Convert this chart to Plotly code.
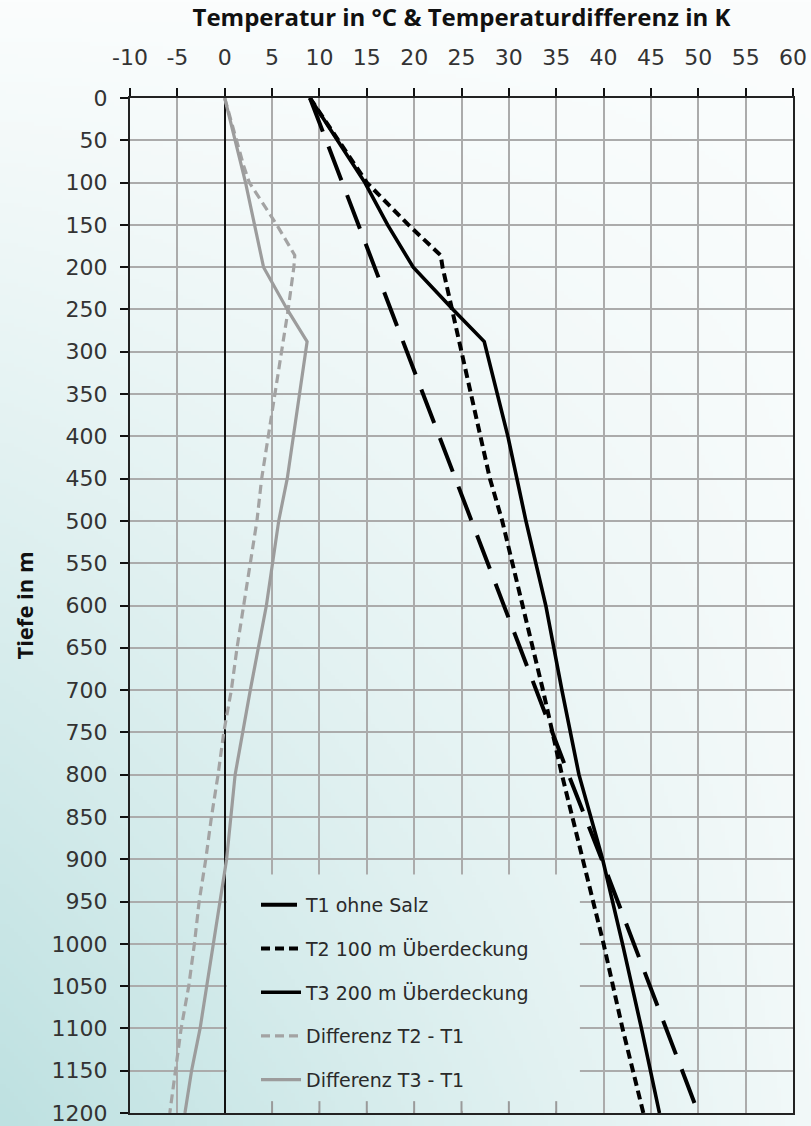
import base64
import struct
import zlib

import numpy as np
import plotly.graph_objects as go

# ---------------------------------------------------------------- data
# Temperaturen (°C) über der Tiefe (m)
depth_t1 = [0, 100, 200, 300, 400, 500, 600, 700, 800, 900, 1000, 1100, 1200]
temp_t1 = [9.0, 12.4, 15.8, 19.3, 22.7, 26.1, 29.5, 32.9, 36.3, 39.8, 43.2, 46.6, 50.0]

depth_t2 = [0, 100, 150, 186, 200, 250, 300, 350, 400, 450, 500, 600, 700, 800, 900, 1000, 1100, 1200]
temp_t2 = [9.0, 15.0, 19.4, 22.8, 23.0, 24.0, 25.0, 26.1, 27.1, 28.0, 29.3, 31.5, 33.6, 35.6, 37.8, 40.0, 42.0, 44.2]

depth_t3 = [0, 100, 150, 200, 250, 288, 400, 500, 600, 700, 800, 900, 1000, 1100, 1200]
temp_t3 = [9.0, 14.8, 17.2, 19.9, 24.1, 27.4, 29.9, 31.8, 33.9, 35.6, 37.4, 39.9, 42.0, 44.0, 45.9]

# Temperaturdifferenzen (K)
depth_d21 = [0, 80, 100, 150, 186, 200, 250, 300, 350, 400, 450, 500, 550, 600, 650, 700,
             750, 800, 850, 900, 950, 1000, 1050, 1100, 1150, 1200]
diff_d21 = [0.0, 2.0, 2.6, 5.5, 7.4, 7.3, 6.7, 6.0, 5.3, 4.6, 3.9, 3.4, 2.7, 2.0, 1.3, 0.7,
            -0.1, -0.7, -1.4, -2.0, -2.7, -3.2, -3.8, -4.6, -5.2, -5.8]

depth_d31 = [0, 100, 200, 250, 288, 350, 400, 450, 500, 600, 700, 800, 900, 950, 1000,
             1050, 1100, 1150, 1200]
diff_d31 = [0.0, 2.2, 4.1, 6.6, 8.7, 7.9, 7.25, 6.6, 5.7, 4.4, 2.7, 1.1, 0.2, -0.5, -1.2,
            -1.9, -2.6, -3.5, -4.2]

x_ticks = list(range(-10, 61, 5))
y_ticks = list(range(0, 1201, 50))

# ---------------------------------------------------------------- layout geometry
W, H = 811, 1126
ML, MR, MT, MB = 130, 18, 98, 13
PW, PH = W - ML - MR, H - MT - MB
X_RANGE = (-10, 60)
Y_RANGE = (1200, 0)

TICK_FONT = "'DejaVu Sans', sans-serif"
TITLE_FONT = "'Open Sans', sans-serif"
TXT = "#2a2a2a"


def px_of(v):
    return ML + (v - X_RANGE[0]) / (X_RANGE[1] - X_RANGE[0]) * PW


def py_of(d):
    return MT + d / Y_RANGE[0] * PH


# ---------------------------------------------------------------- background gradient
TEAL = np.array([190, 225, 225], float)
WHITE = np.array([251, 253, 253], float)


def gradient_rgb(x0, x1, y0, y1, nx, ny):
    xs = np.linspace(x0, x1, nx)[None, :]
    ys = np.linspace(y0, y1, ny)[:, None]
    t = np.clip((ys / H) * (1 - 0.85 * xs / W), 0, 1)
    rgb = WHITE + (TEAL - WHITE) * t[..., None]
    return np.clip(rgb, 0, 255).astype(np.uint8)


def png_uri(rgb):
    h, w, _ = rgb.shape
    raw = b"".join(b"\x00" + rgb[i].tobytes() for i in range(h))

    def chunk(tag, data):
        body = tag + data
        return struct.pack(">I", len(data)) + body + struct.pack(">I", zlib.crc32(body) & 0xFFFFFFFF)

    png = (b"\x89PNG\r\n\x1a\n"
           + chunk(b"IHDR", struct.pack(">IIBBBBB", w, h, 8, 2, 0, 0, 0))
           + chunk(b"IDAT", zlib.compress(raw, 9))
           + chunk(b"IEND", b""))
    return "data:image/png;base64," + base64.b64encode(png).decode()


def paper_x(px):
    return (px - ML) / PW


def paper_y(py):
    return 1 - (py - MT) / PH


bg_uri = png_uri(gradient_rgb(0, W, 0, H, W // 4, H // 4))

# patch behind the legend (hides the grid there, keeps the gradient)
lx0, lx1 = px_of(0.2), px_of(37.5)
ly0, ly1 = py_of(918), py_of(1197.5)
legend_uri = png_uri(gradient_rgb(lx0, lx1, ly0, ly1, 90, 60))

# ---------------------------------------------------------------- traces
fig = go.Figure()

fig.add_trace(go.Scatter(
    x=temp_t1, y=depth_t1, mode="lines", name="T1 ohne Salz", legendgroup="a",
    line=dict(color="black", width=4, dash="36px,16px")))
fig.add_trace(go.Scatter(
    x=temp_t2, y=depth_t2, mode="lines", name="T2 100 m Überdeckung", legendgroup="b",
    line=dict(color="black", width=4, dash="9px,5px")))
fig.add_trace(go.Scatter(
    x=temp_t3, y=depth_t3, mode="lines", name="T3 200 m Überdeckung", legendgroup="c",
    line=dict(color="black", width=3.6)))
fig.add_trace(go.Scatter(
    x=diff_d21, y=depth_d21, mode="lines", name="Differenz T2 - T1", legendgroup="d",
    line=dict(color="#a3a3a3", width=3.2, dash="9px,5px")))
fig.add_trace(go.Scatter(
    x=diff_d31, y=depth_d31, mode="lines", name="Differenz T3 - T1", legendgroup="e",
    line=dict(color="#9c9c9c", width=3.2)))

# ---------------------------------------------------------------- images / shapes
fig.add_layout_image(dict(
    source=bg_uri, xref="paper", yref="paper",
    x=paper_x(0), y=paper_y(0), sizex=W / PW, sizey=H / PH,
    xanchor="left", yanchor="top", sizing="stretch", layer="below"))
fig.add_layout_image(dict(
    source=legend_uri, xref="paper", yref="paper",
    x=paper_x(lx0), y=paper_y(ly0), sizex=(lx1 - lx0) / PW, sizey=(ly1 - ly0) / PH,
    xanchor="left", yanchor="top", sizing="stretch", layer="above"))

# short inner ticks on the lower frame inside the legend patch
for v in x_ticks:
    if 0 < v < 37.5:
        fig.add_shape(type="line", xref="x", yref="y", x0=v, x1=v, y0=1200, y1=1186,
                      line=dict(color="#9a9a9a", width=2), layer="above")

# ---------------------------------------------------------------- layout
fig.update_layout(
    width=W, height=H,
    margin=dict(l=ML, r=MR, t=MT, b=MB, autoexpand=False),
    paper_bgcolor="white",
    plot_bgcolor="rgba(0,0,0,0)",
    font=dict(family=TICK_FONT, color=TXT),
    showlegend=True,
    legend=dict(
        x=paper_x(256), y=paper_y(886), xanchor="left", yanchor="top",
        bgcolor="rgba(0,0,0,0)", borderwidth=0,
        font=dict(family=TICK_FONT, size=19, color=TXT),
        traceorder="grouped", tracegroupgap=16, itemwidth=40,
    ),
    xaxis=dict(
        side="top", range=list(X_RANGE), tickmode="array", tickvals=x_ticks,
        ticktext=[str(v) for v in x_ticks], automargin=False,
        showgrid=True, gridcolor="#ababab", gridwidth=2,
        zeroline=True, zerolinecolor="#111", zerolinewidth=2.2,
        showline=True, linecolor="#222", linewidth=2, mirror=True,
        ticks="outside", ticklen=8, tickwidth=2, tickcolor="#111",
        tickfont=dict(family=TICK_FONT, size=22, color="#333"),
        ticklabelstandoff=14, ticklabeloverflow="allow",
        title=dict(text="<b>Temperatur in °C & Temperaturdifferenz in K</b>",
                   font=dict(family=TITLE_FONT, size=24, color="#111"), standoff=14),
    ),
    yaxis=dict(
        range=list(Y_RANGE), tickmode="array", tickvals=y_ticks,
        ticktext=[str(v) for v in y_ticks], automargin=False,
        showgrid=True, gridcolor="#ababab", gridwidth=2,
        zeroline=False,
        showline=True, linecolor="#222", linewidth=2, mirror=True,
        ticks="outside", ticklen=8, tickwidth=2, tickcolor="#111",
        tickfont=dict(family=TICK_FONT, size=22, color="#333"),
        ticklabelstandoff=8, ticklabeloverflow="allow",
        title=dict(text="<b>Tiefe in m</b>",
                   font=dict(family=TITLE_FONT, size=22, color="#111"), standoff=12),
    ),
)

fig.write_html("out.html")
